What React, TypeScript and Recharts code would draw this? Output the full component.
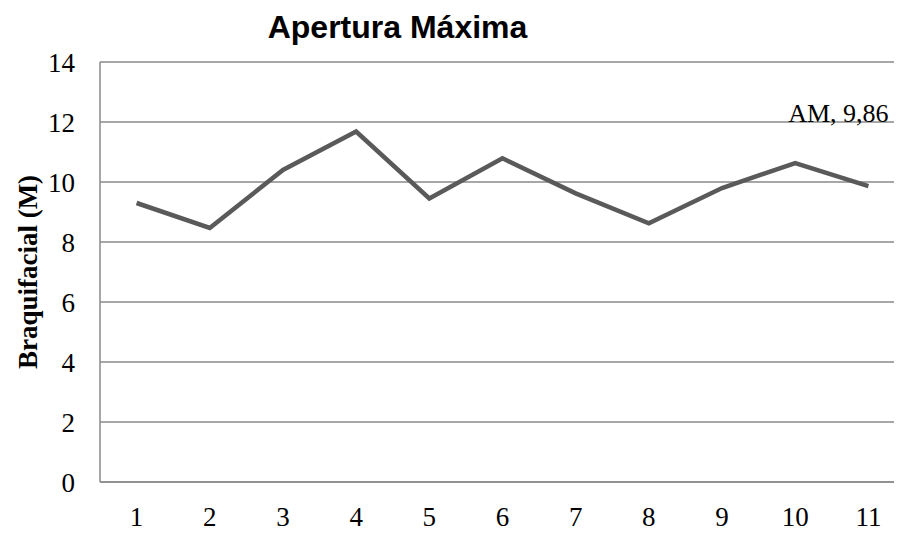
import React from "react";
import {
  CartesianGrid,
  LabelList,
  Line,
  LineChart,
  XAxis,
  YAxis,
} from "recharts";

// Maximum opening per measurement, 1..11
const categories = ["1", "2", "3", "4", "5", "6", "7", "8", "9", "10", "11"];
const aperturaValues = [9.3, 8.47, 10.4, 11.68, 9.45, 10.79, 9.62, 8.62, 9.8, 10.63, 9.86];
const yTicks = [0, 2, 4, 6, 8, 10, 12, 14];

const seriesName = "AM";

const chartData = categories.map((cat, i) => ({
  cat,
  am: aperturaValues[i],
}));

const GRID = "#8a8a8a";
const LINE = "#5a5a5a";
const SERIF = "'Liberation Serif', 'Times New Roman', serif";

const formatValue = (v: number) => v.toFixed(2).replace(".", ",");

// only the final point carries a "series, value" label
const LastPointLabel = (props: any) => {
  const { x, y, index, value } = props;
  if (index !== aperturaValues.length - 1) return null;
  return (
    <text
      x={x - 30}
      y={y - 64}
      textAnchor="middle"
      fontFamily={SERIF}
      fontSize={26}
      fill="#000"
    >
      {`${seriesName}, ${formatValue(value)}`}
    </text>
  );
};

const YTitle = () => (
  <text
    x={29}
    y={264}
    transform="rotate(-90, 29, 264)"
    textAnchor="middle"
    fontFamily={SERIF}
    fontWeight="bold"
    fontSize={27}
    fill="#000"
  >
    Braquifacial (M)
  </text>
);

export default function App() {
  const plotWidth = 805;
  const pad = plotWidth / (categories.length * 2);

  return (
    <div style={{ position: "relative", width: 894, height: 528, overflow: "hidden", background: "#fff" }}>
      <div
        style={{
          position: "absolute",
          top: 3,
          left: 0,
          width: 779,
          textAlign: "center",
          fontFamily: "'Liberation Sans', Arial, sans-serif",
          fontWeight: "bold",
          fontSize: 32,
          lineHeight: "32px",
          color: "#000",
        }}
      >
        Apertura Máxima
      </div>
      <LineChart
        width={900}
        height={528}
        data={chartData}
        margin={{ top: 54, right: 3, bottom: 0, left: 0 }}
      >
        <CartesianGrid vertical={false} stroke={GRID} strokeWidth={1.5} />
        <XAxis
          dataKey="cat"
          height={54}
          padding={{ left: pad, right: pad }}
          axisLine={{ stroke: GRID, strokeWidth: 1.5 }}
          tickLine={false}
          tickSize={0}
          tickMargin={25}
          interval={0}
          tick={{ fontFamily: SERIF, fontSize: 27, fill: "#000" }}
        />
        <YAxis
          width={92}
          domain={[0, 14]}
          ticks={yTicks}
          axisLine={{ stroke: GRID, strokeWidth: 1.5 }}
          tickLine={false}
          tickSize={0}
          tickMargin={25}
          tick={{ fontFamily: SERIF, fontSize: 27, fill: "#000" }}
          label={<YTitle />}
        />
        <Line
          type="linear"
          dataKey="am"
          stroke={LINE}
          strokeWidth={4.5}
          dot={false}
          activeDot={false}
          isAnimationActive={false}
        >
          <LabelList dataKey="am" content={<LastPointLabel />} />
        </Line>
      </LineChart>
    </div>
  );
}
